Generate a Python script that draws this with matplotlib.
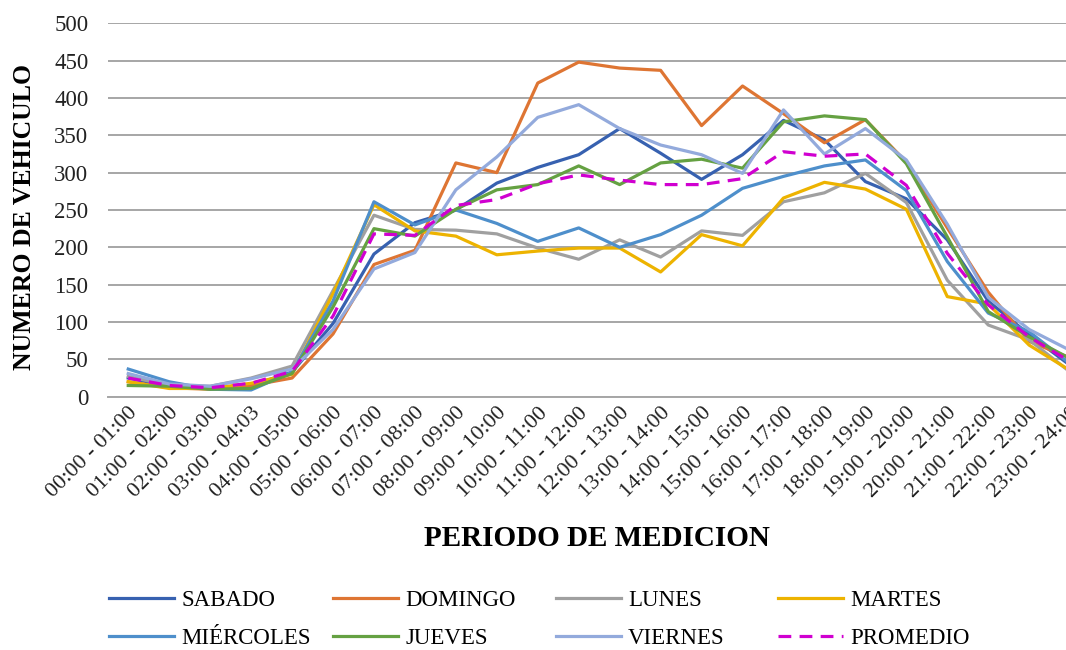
import matplotlib
matplotlib.use("Agg")
import matplotlib.pyplot as plt

# =======================
# Datos (vehiculos por hora)
# =======================
periodos = ["00:00 - 01:00", "01:00 - 02:00", "02:00 - 03:00", "03:00 - 04:03",
            "04:00 - 05:00", "05:00 - 06:00", "06:00 - 07:00", "07:00 - 08:00",
            "08:00 - 09:00", "09:00 - 10:00", "10:00 - 11:00", "11:00 - 12:00",
            "12:00 - 13:00", "13:00 - 14:00", "14:00 - 15:00", "15:00 - 16:00",
            "16:00 - 17:00", "17:00 - 18:00", "18:00 - 19:00", "19:00 - 20:00",
            "20:00 - 21:00", "21:00 - 22:00", "22:00 - 23:00", "23:00 - 24:00"]

sabado    = [25, 14, 12, 15, 33, 98, 191, 233, 250, 286, 307, 324, 359, 326, 291, 324, 370, 344, 288, 265, 210, 128, 83, 42]
domingo   = [20, 12, 10, 15, 25, 84, 177, 196, 313, 300, 420, 448, 440, 437, 363, 416, 379, 340, 371, 314, 226, 140, 74, 52]
lunes     = [27, 15, 14, 25, 41, 142, 243, 224, 223, 218, 199, 184, 210, 187, 222, 216, 261, 273, 299, 260, 156, 96, 76, 33]
martes    = [20, 11, 11, 18, 30, 138, 257, 222, 215, 190, 195, 199, 199, 167, 217, 202, 266, 287, 278, 251, 134, 124, 69, 35]
miercoles = [37, 20, 10, 9, 33, 128, 261, 230, 250, 232, 208, 226, 200, 217, 243, 279, 295, 309, 317, 276, 181, 112, 87, 44]
jueves    = [15, 14, 10, 11, 31, 120, 225, 215, 251, 277, 284, 309, 284, 313, 318, 306, 368, 376, 371, 312, 214, 114, 80, 51]
viernes   = [31, 17, 14, 24, 37, 90, 171, 193, 277, 321, 374, 391, 359, 337, 324, 299, 384, 325, 359, 317, 231, 133, 90, 62]
promedio  = [25, 15, 12, 18, 34, 108, 218, 216, 256, 264, 285, 297, 290, 284, 284, 292, 328, 322, 325, 283, 192, 123, 80, 47]

nombres = ["SABADO", "DOMINGO", "LUNES", "MARTES", "MIÉRCOLES", "JUEVES", "VIERNES", "PROMEDIO"]
series = [sabado, domingo, lunes, martes, miercoles, jueves, viernes, promedio]
colores = ['#3761B0', '#DE7533', '#A0A0A0', '#EDB300', '#4E8FCB', '#65A142', '#93AADC', '#D000D0']

plt.rcParams['font.family'] = ['Liberation Serif', 'DejaVu Serif']

fig = plt.figure(figsize=(10.66, 6.5), dpi=100)
ax = fig.add_axes([0.1011, 0.3897, 0.9220, 0.5745])

x = list(range(len(periodos)))
handles = []
for nombre, datos, c in zip(nombres, series, colores):
    if nombre == "PROMEDIO":
        h, = ax.plot(x, datos, color=c, lw=2.3, dashes=(4, 2.6), label=nombre)
    else:
        h, = ax.plot(x, datos, color=c, lw=2.3, label=nombre)
    handles.append(h)

ax.set_xlim(-0.5, len(periodos) - 0.5)
ax.set_ylim(0, 500)
ax.set_yticks(range(0, 501, 50))
ax.set_xticks(x)
ax.set_xticklabels(periodos, rotation=45, ha='right', rotation_mode='anchor')
ax.tick_params(axis='y', length=0, labelsize=16.5, colors='#222222', pad=14)
ax.tick_params(axis='x', length=0, labelsize=16, colors='#222222', pad=5)
ax.grid(axis='y', color='#A6A6A6', lw=1.4)
ax.set_axisbelow(True)
for s in ['top', 'right', 'left']:
    ax.spines[s].set_visible(False)
ax.spines['bottom'].set_color('#A6A6A6')
ax.spines['bottom'].set_linewidth(1.4)

ax.set_ylabel("NUMERO DE VEHICULO", fontsize=18.5, fontweight='bold')
ax.yaxis.set_label_coords(-0.073, 0.48)
fig.text(0.56, 0.172, "PERIODO DE MEDICION", fontsize=21, fontweight='bold',
         ha='center', va='center')

# leyenda: 4 columnas con ancho fijo
col_x = [109, 333, 556, 778]
for i, cx in enumerate(col_x):
    fig.legend(handles=[handles[i], handles[i + 4]], loc='upper left',
               bbox_to_anchor=(cx / 1066, 1 - 590 / 650), frameon=False,
               fontsize=16.5, handlelength=2.85, handletextpad=0.3,
               labelspacing=0.72, borderpad=0, borderaxespad=0)

fig.savefig("out.png", dpi=100)
